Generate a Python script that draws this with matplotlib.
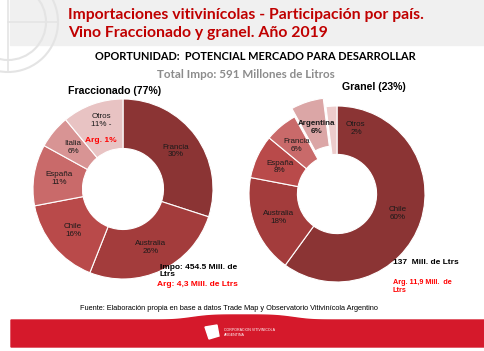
import matplotlib.pyplot as plt
from matplotlib.patches import Rectangle, Circle, Polygon
import numpy as np

# data
frac_labels = ['Francia', 'Australia', 'Chile', 'España', 'Italia', 'Otros']
frac_values = [30, 26, 16, 11, 6, 11]
gran_labels = ['Chile', 'Australia', 'España', 'Francia', 'Argentina', 'Otros']
gran_values = [60, 18, 8, 6, 6, 2]

frac_colors = ['#8b3434', '#a33c3c', '#b94a4a', '#c96a6a', '#d89494', '#e8c3c3']
gran_colors = ['#8b3434', '#a33c3c', '#b94a4a', '#c96a6a', '#dba6a6', '#edcccc']

W, H = 485, 351
fig = plt.figure(figsize=(W / 100, H / 100), dpi=100)
bg = fig.add_axes([0, 0, 1, 1])
bg.set_xlim(0, W)
bg.set_ylim(H, 0)
bg.axis('off')

# header band + globe watermark
bg.add_patch(Rectangle((10, 0), W - 10, 45, color='#f0f0f0', zorder=0))
for r in [50, 38]:
    bg.add_patch(Circle((8, 22), r, fill=False, ec='#e4e4e4', lw=1.5, zorder=1))
bg.plot([8, 58], [22, 22], color='#e4e4e4', lw=1.2)
bg.plot([8, 8], [-28, 72], color='#e4e4e4', lw=1.2)

tfont = 'Lato'
bg.text(68, 15, 'Importaciones vitivinícolas - Participación por país.', color='#c00000',
        fontsize=11.3, fontweight='bold', family=tfont, va='center')
bg.text(68, 33, 'Vino Fraccionado y granel. Año 2019', color='#c00000',
        fontsize=11.3, fontweight='bold', family=tfont, va='center')
bg.text(255, 57, 'OPORTUNIDAD:  POTENCIAL MERCADO PARA DESARROLLAR', color='black',
        fontsize=7.9, fontweight='bold', family=tfont, va='center', ha='center')
bg.text(246, 74, 'Total Impo: 591 Millones de Litros', color='#8c8c8c',
        fontsize=8.4, fontweight='bold', family=tfont, va='center', ha='center')

af = 'Liberation Sans'
bg.text(68, 91, 'Fraccionado (77%)', fontsize=7.6, fontweight='bold', family=af, va='center')
bg.text(342, 87, 'Granel (23%)', fontsize=7.6, fontweight='bold', family=af, va='center')

# footer
bg.text(229, 308, 'Fuente: Elaboración propia en base a datos Trade Map y Observatorio Vitivinícola Argentino',
        fontsize=5.3, family=af, va='center', ha='center')
xs = np.linspace(11, W, 200)
top = 320 - 5 * np.exp(-((xs - 243) / 55) ** 4)
poly = np.vstack([np.column_stack([xs, top]), [[W, 347], [11, 347]]])
bg.add_patch(Polygon(poly, closed=True, color='#d5192b', zorder=2))
bg.add_patch(Polygon([[205, 327], [217, 325], [219, 336], [209, 339]], closed=True,
                     color='white', zorder=3))
bg.text(224, 330, 'CORPORACION VITIVINICOLA', color='white', fontsize=2.6, family=af,
        va='center', zorder=4)
bg.text(224, 335, 'ARGENTINA', color='white', fontsize=2.6, family=af, va='center', zorder=4)


def donut(cx, cy, rad, values, names, colors, explode=None):
    S = 130
    ax = fig.add_axes([(cx - S) / W, (H - cy - S) / H, 2 * S / W, 2 * S / H])
    wedges, _ = ax.pie(values, colors=colors, startangle=90, counterclock=False,
                       radius=1, explode=explode,
                       wedgeprops=dict(width=0.55, edgecolor='white', linewidth=0.8))
    L = S / rad
    ax.set_xlim(-L, L)
    ax.set_ylim(-L, L)
    ax.set_aspect('auto')
    ax.patch.set_alpha(0)
    texts = []
    for w, n, v in zip(wedges, names, values):
        ang = np.deg2rad((w.theta1 + w.theta2) / 2)
        x, y = w.center[0] + 0.72 * np.cos(ang), w.center[1] + 0.72 * np.sin(ang)
        t = ax.text(x, y, f'{n}\n{v}%', ha='center', va='center', fontsize=5.8,
                    family=af, color='#1a1a1a', linespacing=1.15)
        texts.append(t)
    return ax, wedges, texts


axl, wl, tl = donut(123, 189, 90, frac_values, frac_labels, frac_colors)
x, y = tl[-1].get_position()
tl[-1].set_text(f'{frac_labels[-1]}\n{frac_values[-1]}% -\n ')
tl[-1].set_position((x, y + 0.04))
axl.text(x, y - 0.14, 'Arg. 1%', color='#ff0000', fontsize=6, fontweight='bold',
         family=af, ha='center', va='center')

explode = [0, 0, 0, 0, 0.1, 0]
axr, wr, tr = donut(337, 194, 88, gran_values, gran_labels, gran_colors, explode)
x, y = tr[4].get_position()
tr[4].set_position((x + 0.02, y - 0.02))
tr[4].set_fontweight('bold')
x, y = tr[5].get_position()
tr[5].set_position((x + 0.26, y + 0.03))

# annotations on top of the donuts
ov = fig.add_axes([0, 0, 1, 1])
ov.set_xlim(0, W)
ov.set_ylim(H, 0)
ov.axis('off')
ov.text(160, 271, 'Impo: 454.5 Mill. de\nLtrs', fontsize=6, fontweight='bold',
        family=af, va='center', linespacing=1.0)
ov.text(157, 285, 'Arg: 4,3 Mill. de Ltrs', fontsize=6, fontweight='bold',
        family=af, va='center', color='#ff0000')
ov.text(393, 263, '137  Mill. de Ltrs', fontsize=6, fontweight='bold',
        family=af, va='center')
ov.text(393, 287, 'Arg. 11,9 Mill.  de\nLtrs', fontsize=5.2, fontweight='bold',
        family=af, va='center', color='#ff0000', linespacing=1.2)

fig.savefig('out.png', dpi=100)
